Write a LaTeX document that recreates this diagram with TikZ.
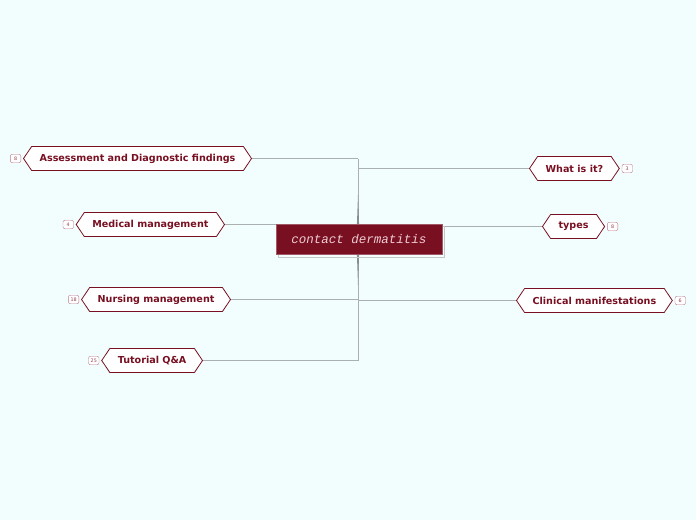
\documentclass[tikz,border=0pt]{standalone}
\usepackage{fontspec}
\setsansfont{DejaVu Sans}
\setmonofont{Liberation Mono}
\usetikzlibrary{positioning,shapes.symbols}
\definecolor{darkred}{RGB}{120,16,34}
\definecolor{bglight}{RGB}{242,254,253}
\definecolor{linegray}{RGB}{170,176,176}
\definecolor{badgered}{RGB}{190,120,140}
\tikzset{
  topic/.style={signal, signal to=east and west, signal pointer angle=112,
    draw=darkred, line width=0.8pt, fill=white, text=darkred,
    font=\sffamily\bfseries\fontsize{9.6}{11}\selectfont,
    minimum height=24pt, inner xsep=8pt, inner ysep=0pt},
  badge/.style={draw=badgered, rounded corners=2pt, fill=white, text=darkred!80,
    font=\sffamily\fontsize{4.8}{5}\selectfont, minimum width=10.5pt, minimum height=8.5pt,
    inner xsep=1.5pt, inner ysep=0.5pt},
  branch/.style={draw=linegray, line width=0.8pt},
}
\begin{document}
\begin{tikzpicture}[x=1pt,y=-1pt]
		\fill[bglight] (0,0) rectangle (696,520);
		\useasboundingbox (0,0) rectangle (696,520);
		\coordinate (hub) at (358,239);
		% left side
		\node[topic, anchor=east] (assess) at (252,158.5) {Assessment and Diagnostic findings};
		\node[topic, anchor=east] (medical) at (225,224.5) {Medical management};
		\node[topic, anchor=east] (nursing) at (231,299.5) {Nursing management};
		\node[topic, anchor=east] (tutorial) at (203,360.5) {Tutorial Q\&A};
		% right side
		\node[topic, anchor=west] (whatis) at (529,168.5) {What is it?};
		\node[topic, anchor=west] (types) at (542,226.5) {types};
		\node[topic, anchor=west] (clinical) at (516,300.5) {Clinical manifestations};
		% counters
		\node[badge, left=2pt of assess.west] (nassess) {8};
		\node[badge, left=2pt of medical.west] (nmedical) {4};
		\node[badge, left=2pt of nursing.west] (nnursing) {18};
		\node[badge, left=2pt of tutorial.west] (ntutorial) {25};
		\node[badge, right=2pt of whatis.east] (nwhatis) {3};
		\node[badge, right=2pt of types.east] (ntypes) {8};
		\node[badge, right=2pt of clinical.east] (nclinical) {6};
		% connectors
		\draw[branch] (assess.east -| hub) -- (tutorial.east -| hub);
		\fill[linegray!80!black] (358,195) -- (359.6,239) -- (358,285) -- (356.4,239) -- cycle;
		\draw[branch] (assess.east) -- (assess.east -| hub);
		\draw[branch] (medical.east) -- (medical.east -| hub);
		\draw[branch] (nursing.east) -- (nursing.east -| hub);
		\draw[branch] (tutorial.east) -- (tutorial.east -| hub);
		\draw[branch] (whatis.west) -- (whatis.west -| hub);
		\draw[branch] (types.west) -- (types.west -| hub);
		\draw[branch] (clinical.west) -- (clinical.west -| hub);
		% central topic
		\draw[gray!45, line width=1pt] (278,226) rectangle (444,257);
		\node[fill=darkred, draw=darkred!70!white, line width=0.6pt, minimum width=166pt, minimum height=30pt,
		  text={rgb,255:red,240;green,205;blue,212}, font=\ttfamily\itshape\fontsize{12.5}{14}\selectfont]
		  (center) at (359,239.5) {contact dermatitis};
		\end{tikzpicture}
\end{document}
